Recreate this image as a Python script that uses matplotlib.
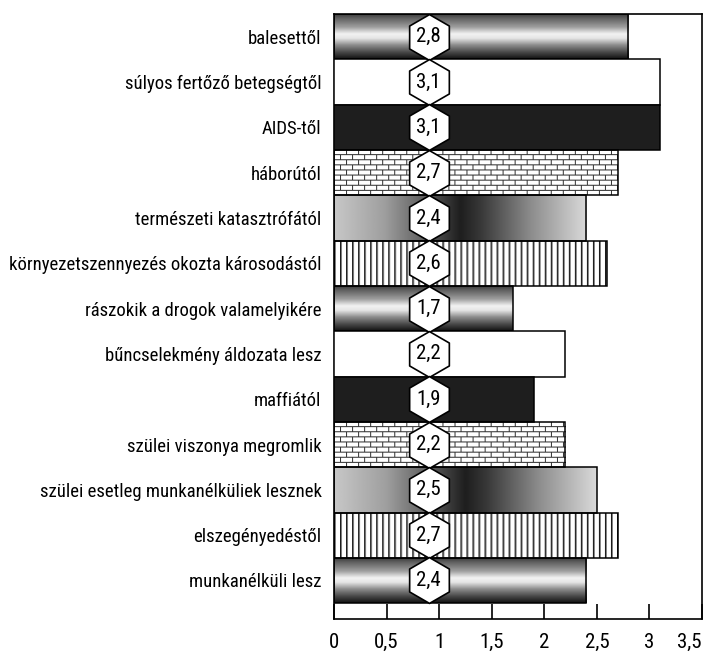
import numpy as np
import matplotlib
matplotlib.use("Agg")
from matplotlib import pyplot as plt

plt.rcParams['font.family'] = ['Roboto Condensed', 'PT Sans Narrow', 'DejaVu Sans']

#DATA:

categories = [
    "balesettől",
    "súlyos fertőző betegségtől",
    "AIDS-től",
    "háborútól",
    "természeti katasztrófától",
    "környezetszennyezés okozta károsodástól",
    "rászokik a drogok valamelyikére",
    "bűncselekmény áldozata lesz",
    "maffiától",
    "szülei viszonya megromlik",
    "szülei esetleg munkanélküliek lesznek",
    "elszegényedéstől",
    "munkanélküli lesz",
]
values = [2.8, 3.1, 3.1, 2.7, 2.4, 2.6, 1.7, 2.2, 1.9, 2.2, 2.5, 2.7, 2.4]
value_labels = ["2,8", "3,1", "3,1", "2,7", "2,4", "2,6", "1,7", "2,2", "1,9", "2,2", "2,5", "2,7", "2,4"]
fills = ["cylinder", "white", "black", "brick", "gradient", "vlines",
         "cylinder", "white", "black", "brick", "gradient", "vlines", "cylinder"]
xticks = [0, 0.5, 1, 1.5, 2, 2.5, 3, 3.5]
xtick_labels = ["0", "0,5", "1", "1,5", "2", "2,5", "3", "3,5"]
hex_x = 0.9

#TEXTURES (pixel sized, about 105 px per unit and 45 px per bar):

PX_UNIT = 105
PX_BAR = 45

def texture(kind, width):
    ncol = max(int(width * PX_UNIT), 2)
    rows = np.linspace(0, 1, PX_BAR)
    cols = np.linspace(0, 1, ncol)
    if kind == "cylinder":
        prof = np.interp(rows, [0, 0.12, 0.3, 0.45, 0.55, 0.7, 0.85, 1.0],
                         [0.22, 0.4, 0.62, 0.95, 0.9, 0.55, 0.3, 0.08])
        return np.tile(prof[:, None], (1, ncol))
    if kind == "gradient":
        prof = np.interp(cols, [0, 0.2, 0.4, 0.5, 0.58, 0.78, 1.0],
                         [0.78, 0.62, 0.3, 0.12, 0.22, 0.55, 0.85])
        return np.tile(prof[None, :], (PX_BAR, 1))
    if kind == "brick":
        arr = np.ones((PX_BAR, ncol))
        r = np.arange(PX_BAR)[:, None]
        c = np.arange(ncol)[None, :]
        arr[np.broadcast_to(r % 5 == 0, arr.shape)] = 0.2
        shift = ((r // 5) % 2) * 6
        arr[np.broadcast_to((c + shift) % 12 == 0, arr.shape)] = 0.2
        return arr
    if kind == "vlines":
        arr = np.ones((PX_BAR, ncol))
        c = np.arange(ncol)
        arr[:, c % 6 == 0] = 0.1
        arr[:, c % 6 == 1] = 0.5
        return arr
    return None

#PLOT:

fig = plt.figure(figsize=(7.05, 6.56), dpi=100)
ax = fig.add_axes([334 / 705, 1 - 619 / 656, 368 / 705, 605 / 656])

ypos = np.arange(len(values))
facecols = []
for f in fills:
    if f == "white":
        facecols.append("white")
    elif f == "black":
        facecols.append("#1e1e1e")
    else:
        facecols.append("none")

bars = ax.barh(ypos, values, height=1.0, color=facecols, edgecolor="black", linewidth=1.1, zorder=3)

for bar, f in zip(bars, fills):
    tex = texture(f, bar.get_width())
    if tex is None:
        continue
    x0, y0 = bar.get_x(), bar.get_y()
    im = ax.imshow(tex, cmap="gray", vmin=0, vmax=1, aspect="auto", origin="upper",
                   extent=(x0, x0 + bar.get_width(), y0 + bar.get_height(), y0),
                   interpolation="bilinear", zorder=2)
    im.set_clip_path(bar)

ax.scatter([hex_x] * len(values), ypos, marker="h", s=33 ** 2, facecolor="white",
           edgecolor="black", linewidths=1.2, zorder=4)
for y, lab in zip(ypos, value_labels):
    ax.text(hex_x, y, lab, ha="center", va="center", fontsize=15, zorder=5)

ax.set_xlim(0, 3.5)
ax.set_ylim(len(values) - 0.5 + 0.35, -0.5)

ax.set_yticks(ypos)
ax.set_yticklabels(categories, fontsize=13.5)
ax.tick_params(axis="y", length=0, pad=9)

ax.set_xticks(xticks)
ax.set_xticklabels(xtick_labels, fontsize=15)
ax.tick_params(axis="x", direction="in", length=11, width=1.2, pad=10)
ax.get_xticklabels()[-1].set_ha("right")

for s in ax.spines.values():
    s.set_linewidth(1.2)

plt.savefig("out.png", dpi=100)
plt.close()
